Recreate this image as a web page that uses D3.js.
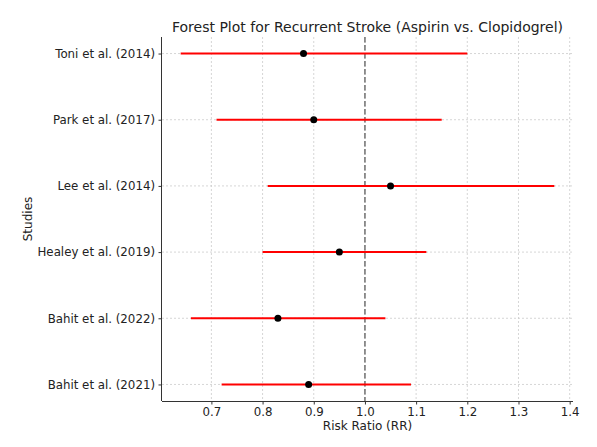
<!DOCTYPE html>
<html><head><meta charset="utf-8">
<script src="https://cdn.jsdelivr.net/npm/d3@7"></script>
<style>
body{margin:0;background:#fff;}
svg{font-family:"DejaVu Sans",sans-serif;}
</style></head>
<body><svg id="c" width="597" height="447"></svg>
<script>
const studies = ["Toni et al. (2014)","Park et al. (2017)","Lee et al. (2014)","Healey et al. (2019)","Bahit et al. (2022)","Bahit et al. (2021)"];
const rr = [0.88,0.90,1.05,0.95,0.83,0.89];
const lower = [0.64,0.71,0.81,0.80,0.66,0.72];
const upper = [1.20,1.15,1.37,1.12,1.04,1.09];
const xTicks = [0.7,0.8,0.9,1.0,1.1,1.2,1.3,1.4];

const svg = d3.select("#c");
const L=162, R=573, T=37, B=401;
const x = d3.scaleLinear().domain([0.6035,1.4065]).range([L,R]);
const yIdx = d3.scaleLinear().domain([-0.25,5.25]).range([B,T]);
const y = (i)=> yIdx(studies.length-1-i);

const g = svg.append("g");
// grid
g.selectAll(".vg").data(xTicks).enter().append("line")
 .attr("x1",d=>x(d)).attr("x2",d=>x(d)).attr("y1",T).attr("y2",B)
 .attr("stroke","#cccccc").attr("stroke-width",0.8).attr("stroke-dasharray","2,2");
g.selectAll(".hg").data(studies).enter().append("line")
 .attr("x1",L).attr("x2",R).attr("y1",(d,i)=>y(i)).attr("y2",(d,i)=>y(i))
 .attr("stroke","#cccccc").attr("stroke-width",0.8).attr("stroke-dasharray","2,2");
// ref line
g.append("line").attr("x1",x(1)).attr("x2",x(1)).attr("y1",T).attr("y2",B)
 .attr("stroke","#707070").attr("stroke-width",1.5).attr("stroke-dasharray","5.5,2.5");
// CI lines
g.selectAll(".ci").data(studies).enter().append("line")
 .attr("x1",(d,i)=>x(lower[i])).attr("x2",(d,i)=>x(upper[i]))
 .attr("y1",(d,i)=>y(i)).attr("y2",(d,i)=>y(i))
 .attr("stroke","#ff0000").attr("stroke-width",2);
g.selectAll(".pt").data(studies).enter().append("circle")
 .attr("cx",(d,i)=>x(rr[i])).attr("cy",(d,i)=>y(i)).attr("r",3.5).attr("fill","#000");

// axes
const xAxis = d3.axisBottom(x).tickValues(xTicks).tickFormat(d3.format(".1f")).tickSize(3.5).tickPadding(3.5);
const xa = svg.append("g").attr("transform",`translate(0,${B})`).call(xAxis);
xa.select(".domain").attr("d",`M${L},0.5H${R}`);
const yScaleBand = d3.scalePoint().domain(studies).range([y(0),y(studies.length-1)]);
const yAxis = d3.axisLeft(yScaleBand).tickSize(3.5).tickPadding(3.5);
const ya = svg.append("g").attr("transform",`translate(${L},0)`).call(yAxis);
ya.select(".domain").attr("d",`M-0.5,${T}V${B}`);
[xa,ya].forEach(a=>{
  a.select(".domain").attr("stroke","#333").attr("stroke-width",1);
  a.selectAll(".tick line").attr("stroke","#333");
  a.selectAll(".tick text").attr("fill","#222").attr("font-size",11.8).attr("font-family","DejaVu Sans");
});
// labels
svg.append("text").attr("x",(L+R)/2).attr("y",32).attr("text-anchor","middle")
 .attr("font-size",14).attr("fill","#222").text("Forest Plot for Recurrent Stroke (Aspirin vs. Clopidogrel)");
svg.append("text").attr("x",(L+R)/2).attr("y",430).attr("text-anchor","middle")
 .attr("font-size",12).attr("fill","#222").text("Risk Ratio (RR)");
svg.append("text").attr("transform",`translate(32,${(T+B)/2}) rotate(-90)`).attr("text-anchor","middle")
 .attr("font-size",12).attr("fill","#222").text("Studies");
</script></body></html>
